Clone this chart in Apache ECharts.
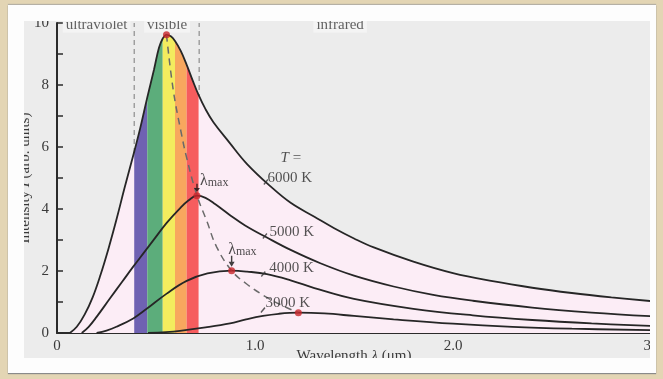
<!DOCTYPE html>
<html><head><meta charset="utf-8">
<script src="https://cdn.jsdelivr.net/npm/echarts@6/dist/echarts.min.js"></script>
<style>
html,body{margin:0;padding:0;width:663px;height:379px;overflow:hidden;background:#e3d5b4;}
#panel{position:absolute;left:8px;top:5px;width:648px;height:368px;background:#fdfdfd;box-shadow:0 1px 1px #8a8a8a, 0 -1px 1px #b5b0a5;}
#chart{position:absolute;left:24px;top:21px;width:626px;height:337px;background:#ececec;overflow:hidden;}
</style></head><body>
<div id="panel"></div><div id="chart"></div>
<script>
// ---- data ----
const curve6000 = [[0.065,0],[0.1,0.2],[0.14,0.6],[0.18,1.15],[0.22,1.88],[0.26,2.72],[0.30,3.65],[0.34,4.65],[0.39,5.85],[0.42,6.6],[0.456,7.6],[0.49,8.5],[0.515,9.2],[0.534,9.5],[0.553,9.62],[0.575,9.57],[0.596,9.42],[0.625,9.1],[0.655,8.65],[0.685,8.15],[0.715,7.68],[0.75,7.22],[0.79,6.8],[0.87,6.15],[0.96,5.45],[1.08,4.72],[1.18,4.2],[1.3,3.75],[1.4,3.38],[1.5,3.05],[1.6,2.76],[1.8,2.3],[2.0,1.93],[2.2,1.67],[2.4,1.46],[2.6,1.29],[2.8,1.15],[3.0,1.03]];
const curve5000 = [[0.125,0],[0.16,0.2],[0.2,0.52],[0.268,1.12],[0.33,1.66],[0.385,2.14],[0.44,2.6],[0.49,3.02],[0.554,3.55],[0.621,4.02],[0.665,4.28],[0.707,4.43],[0.75,4.36],[0.8,4.15],[0.874,3.8],[0.95,3.47],[1.06,3.08],[1.18,2.68],[1.33,2.25],[1.5,1.85],[1.7,1.5],[1.9,1.23],[2.1,1.04],[2.4,0.82],[2.7,0.66],[3.0,0.54]];
const curve4000 = [[0.2,0],[0.25,0.08],[0.3,0.2],[0.385,0.47],[0.453,0.78],[0.554,1.27],[0.655,1.68],[0.76,1.92],[0.882,2.01],[0.96,1.98],[1.06,1.9],[1.18,1.7],[1.3,1.45],[1.5,1.1],[1.8,0.78],[2.1,0.57],[2.4,0.42],[2.7,0.31],[3.0,0.23]];
const curve3000 = [[0.46,0],[0.55,0.03],[0.621,0.07],[0.75,0.18],[0.874,0.31],[0.95,0.43],[1.04,0.55],[1.12,0.62],[1.219,0.655],[1.35,0.63],[1.5,0.55],[1.7,0.44],[2.0,0.3],[2.3,0.2],[2.6,0.14],[3.0,0.09]];
const wienCurve = [[0.553,9.62],[0.587,7.84],[0.626,6.5],[0.655,5.65],[0.707,4.43],[0.756,3.62],[0.806,2.78],[0.882,2.01],[0.958,1.58],[1.059,1.15],[1.14,0.88],[1.219,0.655]];
const peaksX = [0.553, 0.707, 0.882, 1.219];
const peaksY = [9.62, 4.43, 2.01, 0.655];
const visibleBounds = [0.39, 0.718];
const bandEdges = [0.39, 0.456, 0.534, 0.596, 0.655, 0.715];
const regionNames = ['ultraviolet', 'visible', 'infrared'];
const regionX = [0.2, 0.556, 1.43];
const regionY = 9.93;
const tempNames = ['6000 K', '5000 K', '4000 K', '3000 K'];
const tempAnchorX = [1.055, 1.05, 1.042, 1.04];
const tempAnchorY = [4.87, 3.13, 1.9, 0.74];
const xTickLabels = {0: '0', 1: '1.0', 2: '2.0', 3: '3'};
const yMin = 0, yMax = 10, xMin = 0, xMax = 3;

// ---- styles ----
const bandColors = ['#6f62b2', '#5cad7b', '#f3ec5e', '#f8a75e', '#f65d5e'];
const serif = 'Liberation Serif';
const ink = '#262626';
const SM = 0.4;

const chart = echarts.init(document.getElementById('chart'), null, {renderer: 'canvas'});
const series = [];

visibleBounds.forEach(b => series.push({
  type: 'line', z: 1, silent: true, symbol: 'none',
  data: [[b, yMin], [b, yMax]],
  lineStyle: {color: '#8c8c8c', width: 1.2, type: [5, 4]}
}));

series.push({
  type: 'line', z: 2, silent: true, symbol: 'none', smooth: SM,
  data: curve6000, lineStyle: {width: 0},
  areaStyle: {color: '#fcedf6', opacity: 1}
});

for (let i = 0; i < bandColors.length; i++) {
  const lo = bandEdges[i], hi = bandEdges[i + 1];
  series.push({
    type: 'line', z: 3, silent: true, symbol: 'none', smooth: SM,
    data: curve6000.filter(p => p[0] >= lo - 1e-9 && p[0] <= hi + 1e-9),
    lineStyle: {width: 0},
    areaStyle: {color: bandColors[i], opacity: 1}
  });
}

[curve6000, curve5000, curve4000, curve3000].forEach(c => series.push({
  type: 'line', z: 4, silent: true, symbol: 'none', smooth: SM,
  data: c, lineStyle: {color: ink, width: 1.8}
}));

series.push({
  type: 'line', z: 5, silent: true, symbol: 'none', smooth: 0.4,
  data: wienCurve, lineStyle: {color: '#6a6a6a', width: 1.5, type: [7, 5]}
});

series.push({
  type: 'scatter', z: 7, silent: true, symbol: 'circle', symbolSize: 7,
  itemStyle: {color: '#c8262b'},
  data: peaksX.map((x, i) => [x, peaksY[i]])
});

// lambda max arrows + labels (on the 5000 K and 4000 K peaks)
const arrowPath = 'path://M-0.7,0 L0.7,0 L0.7,6 L3,6 L0,11 L-3,6 L-0.7,6 Z';
const lamRich = {
  l: {fontFamily: serif, fontSize: 16, color: '#222', verticalAlign: 'bottom', lineHeight: 16},
  m: {fontFamily: serif, fontSize: 12, color: '#222', verticalAlign: 'bottom', lineHeight: 11}
};
series.push({
  type: 'scatter', z: 6, silent: true, symbol: arrowPath,
  itemStyle: {color: '#111'},
  data: [
    {value: [peaksX[1], peaksY[1]], symbolSize: [6, 8], symbolOffset: [0, -8],
     label: {show: true, position: [6, 5], align: 'left', verticalAlign: 'bottom', formatter: '{l|λ}{m|max}', rich: lamRich}},
    {value: [peaksX[2], peaksY[2]], symbolSize: [6, 11], symbolOffset: [0, -9.5],
     label: {show: true, position: [-0.5, 2], align: 'left', verticalAlign: 'bottom', formatter: '{l|λ}{m|max}', rich: lamRich}}
  ]
});

// temperature labels with small leader strokes
const leaderPath = 'path://M0,9 L8,0 L10,2 L2,11 Z';
const tOffsets = [[-1, -4], [2, -4.3], [3.5, -5.7], [0, -7]];
const tData = tempNames.map((n, i) => ({
  value: [tempAnchorX[i], tempAnchorY[i]],
  label: {show: true, position: 'right', distance: 0, offset: tOffsets[i], formatter: n,
    fontFamily: serif, fontSize: 15, color: '#2a2a2a'}
}));
tData.push({
  value: [tempAnchorX[0], tempAnchorY[0]], symbolSize: 0,
  label: {show: true, position: 'inside', offset: [25, -24], formatter: '{i|T} =',
    rich: {i: {fontFamily: serif, fontSize: 15, fontStyle: 'italic', color: '#2a2a2a'}},
    fontFamily: serif, fontSize: 15, color: '#2a2a2a'}
});
series.push({
  type: 'scatter', z: 6, silent: true, symbol: leaderPath, symbolSize: [5, 6],
  itemStyle: {color: '#333'}, data: tData
});

// region labels at the top
series.push({
  type: 'scatter', z: 6, silent: true, symbolSize: 0,
  data: regionNames.map((n, i) => ({value: [regionX[i], regionY],
    label: {show: true, position: 'inside', formatter: n, fontFamily: serif, fontSize: 15, color: '#3a3a3a',
      backgroundColor: 'rgba(246,246,246,0.9)', padding: [0, 3]}}))
});

const axisText = {fontFamily: serif, fontSize: 15, color: '#3a3a3a'};

chart.setOption({
  animation: false,
  backgroundColor: 'transparent',
  grid: {left: 33, right: -1, top: 2, bottom: 25, containLabel: false, outerBoundsMode: 'none'},
  xAxis: {
    type: 'value', min: xMin, max: xMax, interval: 0.5,
    name: '{n|Wavelength }{i|λ}{n| (μm)}', nameLocation: 'middle', nameGap: 16, nameMoveOverlap: false,
    nameTextStyle: {fontFamily: serif, fontSize: 15, color: '#3a3a3a', verticalAlign: 'top',
      rich: {n: {fontFamily: serif, fontSize: 15, color: '#3a3a3a'}, i: {fontFamily: serif, fontSize: 15, fontStyle: 'italic', color: '#3a3a3a'}}},
    axisLine: {onZero: false, lineStyle: {color: '#2b2b2b', width: 2}},
    axisTick: {inside: true, length: 10, lineStyle: {color: '#2b2b2b', width: 1.5}},
    minorTick: {show: true, splitNumber: 5, length: 5, lineStyle: {color: '#2b2b2b', width: 1.5}},
    axisLabel: Object.assign({margin: 6, alignMaxLabel: 'right', formatter: v => (xTickLabels[v] !== undefined ? xTickLabels[v] : '')}, axisText),
    splitLine: {show: false}
  },
  yAxis: {
    type: 'value', min: yMin, max: yMax, interval: 2,
    name: '{n|Intensity }{i|I}{n| (arb. units)}', nameLocation: 'middle', nameGap: 24, nameMoveOverlap: false,
    nameTextStyle: {fontFamily: serif, fontSize: 15, color: '#3a3a3a',
      rich: {n: {fontFamily: serif, fontSize: 15, color: '#3a3a3a'}, i: {fontFamily: serif, fontSize: 15, fontStyle: 'italic', color: '#3a3a3a'}}},
    axisLine: {onZero: false, lineStyle: {color: '#2b2b2b', width: 2}},
    axisTick: {inside: true, length: 6, lineStyle: {color: '#2b2b2b', width: 1.5}},
    minorTick: {show: true, splitNumber: 2, length: 6, lineStyle: {color: '#2b2b2b', width: 1.5}},
    axisLabel: Object.assign({margin: 8}, axisText),
    splitLine: {show: false}
  },
  series: series
});
</script>
</body></html>
